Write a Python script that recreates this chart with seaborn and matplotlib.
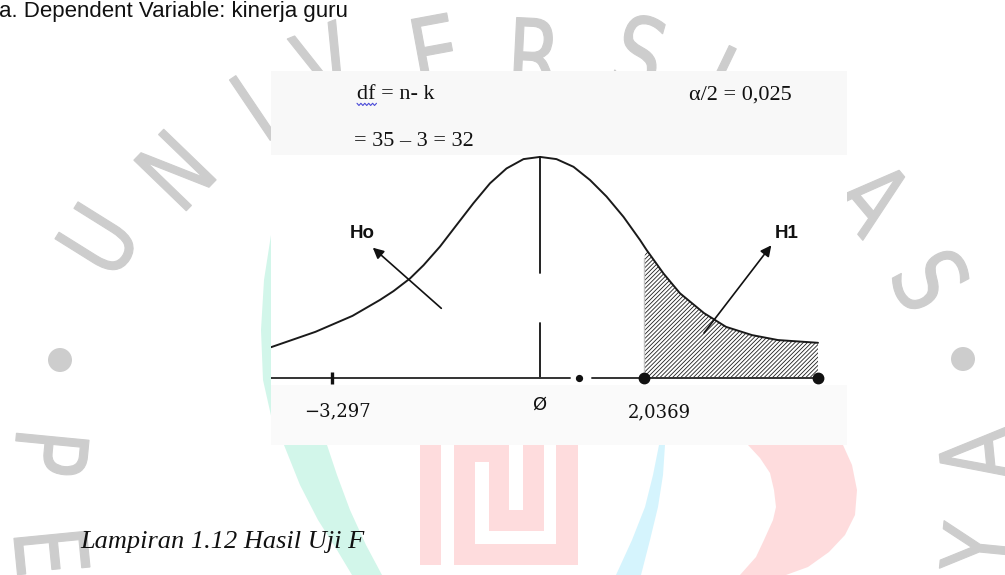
import numpy as np
import matplotlib
matplotlib.use("Agg")
import matplotlib.pyplot as plt
import seaborn as sns
from matplotlib.patches import Polygon, Rectangle, Circle, PathPatch
from matplotlib.textpath import TextPath
from matplotlib.font_manager import FontProperties
from matplotlib.transforms import Affine2D

# ---------------- data ----------------
# bell curve (chart units: x ~ t-scale, y ~ density height)
curve_x = np.array([-5.38, -4.49, -3.75, -3.20, -2.93, -2.60, -2.33, -2.00, -1.67,
                    -1.33, -1.00, -0.67, -0.33, 0.00, 0.33, 0.67, 1.00, 1.33,
                    1.67, 2.00, 2.13, 2.47, 2.80, 3.28, 3.72, 4.24, 4.76, 5.56])
curve_y = np.array([0.056, 0.084, 0.113, 0.142, 0.158, 0.181, 0.205, 0.239, 0.278,
                    0.318, 0.354, 0.381, 0.398, 0.402, 0.398, 0.384, 0.360, 0.330,
                    0.293, 0.251, 0.233, 0.190, 0.154, 0.118, 0.093, 0.078, 0.069,
                    0.064])

neg_tick_x = -4.16      # position of the -3,297 mark
small_dot_x = 0.78      # small dot on the axis
crit_x = 2.08           # 2,0369 critical value
crit_top = 0.218        # top of the hatched region's left edge
end_x = 5.56            # end of the rejection region
center_gap = (0.100, 0.191)   # gap in the centre line

tick_labels = ["\u22123,297", "\u00d8", "2,0369"]
tick_label_x = [-4.06, -0.02, 2.38]

header_left = ["df = n- k", "= 35 \u2013 3 = 32"]
header_right = "\u03b1/2 = 0,025"
region_labels = ["Ho", "H1"]
caption = "Lampiran 1.12 Hasil Uji F"
top_note = "a. Dependent Variable: kinerja guru"

# ---------------- style ----------------
sns.set_theme(style="white")
plt.rcParams["font.family"] = ["DejaVu Sans"]
plt.rcParams["hatch.linewidth"] = 0.6
plt.rcParams["hatch.color"] = "#1e1e1e"

W, H = 1005, 575
fig = plt.figure(figsize=(W / 100, H / 100), dpi=100, facecolor="white")

# ---------------- background page with watermark ----------------
bg = fig.add_axes([0, 0, 1, 1])
bg.set_xlim(0, W)
bg.set_ylim(0, H)
bg.axis("off")

def P(pts):
    return [(x, H - y) for x, y in pts]

TEAL = "#d2f6ea"
PINK = "#fedcdd"
BLUE = "#d5f4fd"
GRAY = "#cdcdcd"

teal_pts = [(271, 235), (264, 280), (261, 330), (263, 380), (272, 420), (284, 445),
            (300, 485), (318, 520), (337, 550), (352, 575), (354, 600),
            (386, 600), (382, 575), (366, 545), (350, 510), (337, 475), (327, 445),
            (318, 410), (312, 360), (312, 300), (318, 235)]
bg.add_patch(Polygon(P(teal_pts), closed=True, fc=TEAL, ec="none", zorder=1))

blue_pts = [(664, 430), (659, 445), (653, 475), (645, 507), (632, 540), (616, 575),
            (612, 600), (638, 600), (641, 575), (650, 540), (658, 507), (663, 475),
            (665, 445), (666, 430)]
bg.add_patch(Polygon(P(blue_pts), closed=True, fc=BLUE, ec="none", zorder=1))

pink_right = [(830, 420), (843, 445), (852, 465), (857, 490), (855, 515), (845, 535),
              (829, 552), (808, 567), (786, 575), (770, 600), (730, 600), (740, 575),
              (756, 557), (764, 540), (773, 520), (776, 507), (774, 490), (770, 473),
              (760, 458), (748, 445), (735, 425)]
bg.add_patch(Polygon(P(pink_right), closed=True, fc=PINK, ec="none", zorder=1))

# meander logo block
for (x0, x1, y0, y1, c) in [
        (420, 441, 300, 565, PINK),
        (454, 578, 300, 565, PINK),
        (475, 489, 462, 544, "white"),
        (475, 556, 531, 544, "white"),
        (544, 556, 300, 544, "white"),
        (509, 523, 300, 510, "white")]:
    bg.add_patch(Rectangle((x0, H - y1), x1 - x0, y1 - y0, fc=c, ec="none", zorder=1))

fp_wm = FontProperties(family="DejaVu Sans")

def wm_letter(ch, cx, cy, rot):
    tp = TextPath((0, 0), ch, size=100, prop=fp_wm)
    ext = tp.get_extents()
    tr = (Affine2D()
          .translate(-(ext.x0 + ext.x1) / 2, -(ext.y0 + ext.y1) / 2)
          .scale(0.78, 1.0)
          .rotate_deg(rot)
          .translate(cx, H - cy))
    bg.add_patch(PathPatch(tr.transform_path(tp), fc=GRAY, ec=GRAY, lw=0.8, zorder=2))

wm = [("U", 98, 240, 58), ("N", 175, 170, 46), ("I", 253, 108, 34),
      ("V", 325, 63, 22), ("E", 436, 52, 10.5), ("R", 537, 55, -2.8),
      ("S", 640, 53, -15.7), ("I", 717, 80, -25.7), ("T", 795, 120, -37),
      ("A", 874, 197, -50), ("S", 931, 280, -62),
      ("P", 51, 455, -95.5), ("E", 52, 553, -84.4),
      ("A", 976, 455, 95.6), ("Y", 978, 548, 84.4)]
for ch, cx, cy, r in wm:
    wm_letter(ch, cx, cy, r)
bg.add_patch(Circle((60, H - 360), 12, fc=GRAY, ec="none", zorder=2))
bg.add_patch(Circle((963, H - 359), 12, fc=GRAY, ec="none", zorder=2))

bg.text(-1, H - 17, top_note, fontsize=16, family="Liberation Sans",
        ha="left", va="baseline", color="#111111", zorder=3)
bg.text(80, H - 548, caption, fontsize=19, family="Liberation Serif",
        style="italic", ha="left", va="baseline", color="#111111", zorder=3)

# ---------------- chart image ----------------
cax = fig.add_axes([271 / W, (H - 445) / H, 576 / W, 374 / H])
XL, YL = (-5.38, 6.14), (-0.1218, 0.5582)
cax.set_xlim(*XL)
cax.set_ylim(*YL)
cax.set_facecolor("white")
for s in cax.spines.values():
    s.set_visible(False)
cax.set_xticks([])
cax.set_yticks([])

cax.axhspan(0.4055, YL[1], color="#f8f8f8", lw=0, zorder=0)
cax.axhspan(YL[0], -0.0127, color="#fafafa", lw=0, zorder=0)

# rejection region (hatched)
mask = curve_x > crit_x
hx = np.concatenate([[crit_x], curve_x[mask]])
hy = np.concatenate([[crit_top], curve_y[mask]])
cax.fill_between(hx, 0, hy, facecolor="white", edgecolor="#1e1e1e",
                 hatch="////////", linewidth=0, zorder=2)
cax.plot([crit_x, crit_x], [0, crit_top], color="#c4c4c4", lw=1.0, zorder=3)

# curve
sns.lineplot(x=curve_x, y=curve_y, ax=cax, color="#1a1a1a", linewidth=1.4, zorder=4)

# centre line with gap
cax.plot([0, 0], [0, center_gap[0]], color="#111111", lw=1.3, zorder=4)
cax.plot([0, 0], [center_gap[1], curve_y.max()], color="#111111", lw=1.3, zorder=4)

# horizontal axis line
cax.plot([XL[0], small_dot_x - 0.18], [0, 0], color="#333333", lw=1.4, zorder=5)
cax.plot([small_dot_x + 0.25, end_x], [0, 0], color="#333333", lw=1.4, zorder=5)
cax.plot([neg_tick_x], [0], marker="|", markersize=8, mew=2.4, color="#111111", zorder=6)
cax.plot([crit_x, end_x], [0, 0], "o", markersize=7.5, color="#111111", zorder=6)
cax.plot([small_dot_x], [0], "o", markersize=4.2, color="#111111", zorder=6)

# axis labels
cax.text(tick_label_x[0], -0.0691, tick_labels[0], family="DejaVu Serif", fontsize=13,
         ha="center", va="baseline", color="#111111")
cax.text(tick_label_x[1], -0.049, tick_labels[1], family="DejaVu Sans", fontsize=13,
         ha="center", va="center", color="#111111")
cax.text(tick_label_x[2], -0.0709, tick_labels[2], family="DejaVu Serif", fontsize=13,
         ha="center", va="baseline", color="#111111")

# header text
cax.text(-3.66, 0.5067, header_left[0], family="Liberation Serif", fontsize=16,
         ha="left", va="baseline", color="#111111")
cax.text(-3.72, 0.4218, header_left[1], family="Liberation Serif", fontsize=16,
         ha="left", va="baseline", color="#111111")
cax.text(2.98, 0.5067, header_right, family="Liberation Serif", fontsize=16,
         ha="left", va="baseline", color="#111111")
wx = np.linspace(-3.66, -3.27, 11)
wy = np.where(np.arange(11) % 2 == 0, 0.4995, 0.4955)
cax.plot(wx, wy, color="#4b4bd8", lw=0.8, zorder=5)

# Ho / H1 arrows and labels
arrow_kw = dict(arrowstyle="-|>", color="#111111", lw=1.2, mutation_scale=16,
                shrinkA=0, shrinkB=0)
cax.annotate("", xy=(-3.344, 0.2369), xytext=(-1.974, 0.1267), arrowprops=arrow_kw, zorder=6)
cax.annotate("", xy=(4.626, 0.2413), xytext=(3.28, 0.0818), arrowprops=arrow_kw, zorder=6)
cax.text(-3.56, 0.2636, region_labels[0], family="Liberation Sans", weight="bold",
         fontsize=13.5, ha="center", va="center", color="#111111")
cax.text(4.94, 0.2627, region_labels[1], family="Liberation Sans", weight="bold",
         fontsize=13.5, ha="center", va="center", color="#111111")

fig.savefig("out.png", dpi=100, facecolor="white")
